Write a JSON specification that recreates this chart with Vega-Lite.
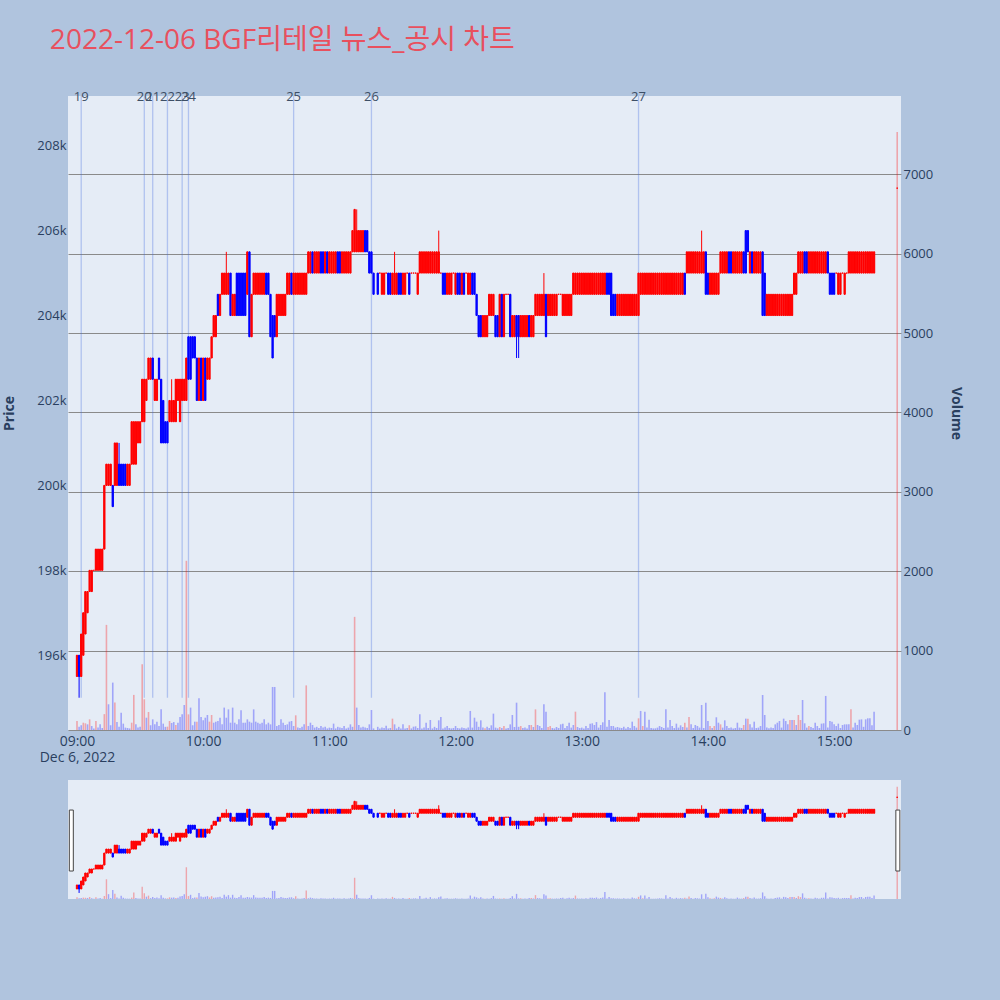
{
  "$schema": "https://vega.github.io/schema/vega-lite/v6.json",
  "background": "#B0C4DE",
  "padding": {"left": 2, "top": 27, "right": 38, "bottom": 101},
  "title": {
    "text": "2022-12-06 BGF리테일 뉴스_공시 차트",
    "anchor": "start",
    "font": "Open Sans, Noto Sans CJK KR",
    "fontSize": 28,
    "fontWeight": "normal",
    "color": "#E8505E",
    "dx": 47,
    "offset": 36
  },
  "config": {
    "view": {"fill": "#E5ECF6", "stroke": null},
    "font": "Open Sans",
    "axis": {"labelFont": "Open Sans", "titleFont": "Open Sans"}
  },
  "data": {
    "values": [
      {"m":0,"o":195500,"h":196000,"l":195500,"c":196000,"v":113,"r":1},
      {"m":1,"o":196000,"h":196000,"l":195000,"c":195500,"v":42},
      {"m":2,"o":195500,"h":196500,"l":195500,"c":196500,"v":60},
      {"m":3,"o":196000,"h":197000,"l":196000,"c":197000,"v":92,"r":1},
      {"m":4,"o":196500,"h":197500,"l":196500,"c":197500,"v":84,"r":1},
      {"m":5,"o":197000,"h":197500,"l":197000,"c":197500,"v":71},
      {"m":6,"o":197500,"h":198000,"l":197500,"c":198000,"v":134,"r":1},
      {"m":7,"o":197500,"h":198000,"l":197500,"c":198000,"v":50},
      {"m":8,"o":198000,"h":198000,"l":198000,"c":198000,"v":20},
      {"m":9,"o":198000,"h":198500,"l":198000,"c":198500,"v":113,"r":1},
      {"m":10,"o":198000,"h":198500,"l":198000,"c":198500,"v":30},
      {"m":11,"o":198000,"h":198500,"l":198000,"c":198500,"v":71},
      {"m":12,"o":198000,"h":198500,"l":198000,"c":198500,"v":25},
      {"m":13,"o":198500,"h":200000,"l":198500,"c":200000,"v":200,"r":1},
      {"m":14,"o":200000,"h":200500,"l":200000,"c":200500,"v":1324,"r":1},
      {"m":15,"o":200000,"h":200500,"l":200000,"c":200500,"v":324},
      {"m":16,"o":200000,"h":200500,"l":200000,"c":200500,"v":60},
      {"m":17,"o":200000,"h":200000,"l":199500,"c":199500,"v":597},
      {"m":18,"o":200000,"h":201000,"l":200000,"c":201000,"v":345,"r":1},
      {"m":19,"o":200000,"h":201000,"l":200000,"c":201000,"v":100},
      {"m":20,"o":200500,"h":201000,"l":200000,"c":200000,"v":40},
      {"m":21,"o":200500,"h":200500,"l":200000,"c":200000,"v":218},
      {"m":22,"o":200500,"h":200500,"l":200000,"c":200000,"v":80},
      {"m":23,"o":200500,"h":200500,"l":200000,"c":200000,"v":30},
      {"m":24,"o":200000,"h":200500,"l":200000,"c":200500,"v":25},
      {"m":25,"o":200000,"h":200500,"l":200000,"c":200500,"v":20},
      {"m":26,"o":200500,"h":201500,"l":200500,"c":201500,"v":92,"r":1},
      {"m":27,"o":200500,"h":201500,"l":200500,"c":201500,"v":442,"r":1},
      {"m":28,"o":200500,"h":201500,"l":200500,"c":201500,"v":71},
      {"m":29,"o":201000,"h":201500,"l":201000,"c":201500,"v":30},
      {"m":30,"o":201000,"h":201500,"l":201000,"c":201500,"v":40},
      {"m":31,"o":201500,"h":202500,"l":201500,"c":202500,"v":828,"r":1},
      {"m":32,"o":201500,"h":202500,"l":201500,"c":202500,"v":387,"r":1},
      {"m":33,"o":202000,"h":202500,"l":202000,"c":202500,"v":155},
      {"m":34,"o":202500,"h":203000,"l":202500,"c":203000,"v":227,"r":1},
      {"m":35,"o":202500,"h":203000,"l":202500,"c":203000,"v":60},
      {"m":36,"o":203000,"h":203000,"l":202500,"c":202500,"v":134},
      {"m":37,"o":202000,"h":202500,"l":202000,"c":202500,"v":71},
      {"m":38,"o":202000,"h":202500,"l":202000,"c":202500,"v":105},
      {"m":39,"o":203000,"h":203000,"l":202500,"c":202500,"v":50},
      {"m":40,"o":202500,"h":202500,"l":201000,"c":201000,"v":260},
      {"m":41,"o":202000,"h":202000,"l":201000,"c":201000,"v":80},
      {"m":42,"o":201500,"h":201500,"l":201000,"c":201000,"v":40},
      {"m":43,"o":201500,"h":201500,"l":201000,"c":201000,"v":42,"r":1},
      {"m":44,"o":201500,"h":202000,"l":201500,"c":202000,"v":113,"r":1},
      {"m":45,"o":201500,"h":202500,"l":201500,"c":202000,"v":88},
      {"m":46,"o":201500,"h":202000,"l":201500,"c":202000,"v":100},
      {"m":47,"o":201500,"h":202500,"l":201500,"c":202500,"v":63,"r":1},
      {"m":48,"o":202000,"h":202500,"l":202000,"c":202500,"v":92},
      {"m":49,"o":201500,"h":202500,"l":201500,"c":202500,"v":164},
      {"m":50,"o":202000,"h":202500,"l":202000,"c":202500,"v":197},
      {"m":51,"o":202000,"h":202500,"l":202000,"c":202500,"v":315},
      {"m":52,"o":202000,"h":203000,"l":202000,"c":203000,"v":2131,"r":1},
      {"m":53,"o":203500,"h":203500,"l":202500,"c":202500,"v":197,"r":1},
      {"m":54,"o":203500,"h":203500,"l":202500,"c":202500,"v":282},
      {"m":55,"o":203500,"h":203500,"l":203000,"c":203000,"v":60},
      {"m":56,"o":203500,"h":203500,"l":203000,"c":203000,"v":105},
      {"m":57,"o":203000,"h":203000,"l":202000,"c":202000,"v":105,"r":1},
      {"m":58,"o":202000,"h":203000,"l":202000,"c":203000,"v":400},
      {"m":59,"o":203000,"h":203000,"l":202000,"c":202000,"v":164},
      {"m":60,"o":202000,"h":203000,"l":202000,"c":203000,"v":122},
      {"m":61,"o":203000,"h":203000,"l":202000,"c":202000,"v":155},
      {"m":62,"o":202500,"h":203000,"l":202500,"c":203000,"v":189},
      {"m":63,"o":202500,"h":203000,"l":202500,"c":203000,"v":105,"r":1},
      {"m":64,"o":203000,"h":203500,"l":203000,"c":203500,"v":189,"r":1},
      {"m":65,"o":203500,"h":204000,"l":203500,"c":204000,"v":92},
      {"m":66,"o":203500,"h":204000,"l":203500,"c":204000,"v":105},
      {"m":67,"o":204500,"h":204500,"l":204000,"c":204000,"v":113},
      {"m":68,"o":204000,"h":204500,"l":204000,"c":204500,"v":155},
      {"m":69,"o":204500,"h":205000,"l":204500,"c":205000,"v":71},
      {"m":70,"o":204500,"h":205000,"l":204500,"c":205000,"v":282},
      {"m":71,"o":204500,"h":205500,"l":204500,"c":205000,"v":155},
      {"m":72,"o":204500,"h":205000,"l":204500,"c":205000,"v":260},
      {"m":73,"o":205000,"h":205000,"l":204000,"c":204000,"v":92},
      {"m":74,"o":204000,"h":204500,"l":204000,"c":204500,"v":282},
      {"m":75,"o":204000,"h":204500,"l":204000,"c":204500,"v":92},
      {"m":76,"o":205000,"h":205000,"l":204000,"c":204000,"v":71},
      {"m":77,"o":205000,"h":205000,"l":204000,"c":204000,"v":134},
      {"m":78,"o":205000,"h":205000,"l":204000,"c":204000,"v":250},
      {"m":79,"o":205000,"h":205000,"l":204000,"c":204000,"v":92},
      {"m":80,"o":205000,"h":205000,"l":204000,"c":204000,"v":92},
      {"m":81,"o":204500,"h":205500,"l":204500,"c":205500,"v":134},
      {"m":82,"o":205500,"h":205500,"l":203500,"c":203500,"v":105},
      {"m":83,"o":203500,"h":204500,"l":203500,"c":204500,"v":92},
      {"m":84,"o":204500,"h":205000,"l":204500,"c":205000,"v":260},
      {"m":85,"o":204500,"h":205000,"l":204500,"c":205000,"v":105},
      {"m":86,"o":204500,"h":205000,"l":204500,"c":205000,"v":92},
      {"m":87,"o":204500,"h":205000,"l":204500,"c":205000,"v":80},
      {"m":88,"o":204500,"h":205000,"l":204500,"c":205000,"v":92},
      {"m":89,"o":204500,"h":205000,"l":204500,"c":205000,"v":134},
      {"m":90,"o":205000,"h":205000,"l":204500,"c":204500,"v":71},
      {"m":91,"o":205000,"h":205000,"l":204500,"c":204500,"v":92},
      {"m":92,"o":204500,"h":204500,"l":203500,"c":203500,"v":71},
      {"m":93,"o":204000,"h":204000,"l":203000,"c":203000,"v":542},
      {"m":94,"o":204000,"h":204000,"l":203500,"c":203500,"v":542},
      {"m":95,"o":203500,"h":204500,"l":203500,"c":204500,"v":50},
      {"m":96,"o":204000,"h":204500,"l":204000,"c":204500,"v":63},
      {"m":97,"o":204000,"h":204500,"l":204000,"c":204500,"v":134},
      {"m":98,"o":204000,"h":204500,"l":204000,"c":204500,"v":92},
      {"m":99,"o":204000,"h":204500,"l":204000,"c":204500,"v":63},
      {"m":100,"o":204500,"h":205000,"l":204500,"c":205000,"v":71},
      {"m":101,"o":204500,"h":205000,"l":204500,"c":205000,"v":105},
      {"m":102,"o":205000,"h":205000,"l":204500,"c":204500,"v":113},
      {"m":103,"o":204500,"h":205000,"l":204500,"c":205000,"v":50},
      {"m":104,"o":204500,"h":205000,"l":204500,"c":205000,"v":185,"r":1},
      {"m":105,"o":204500,"h":205000,"l":204500,"c":205000,"v":30},
      {"m":106,"o":204500,"h":205000,"l":204500,"c":205000,"v":25},
      {"m":107,"o":204500,"h":205000,"l":204500,"c":205000,"v":40},
      {"m":108,"o":204500,"h":205000,"l":204500,"c":205000,"v":71},
      {"m":109,"o":204500,"h":205000,"l":204500,"c":205000,"v":562,"r":1},
      {"m":110,"o":205000,"h":205500,"l":205000,"c":205500,"v":50},
      {"m":111,"o":205000,"h":205500,"l":205000,"c":205500,"v":92},
      {"m":112,"o":205500,"h":205500,"l":205000,"c":205000,"v":63},
      {"m":113,"o":205000,"h":205500,"l":205000,"c":205500,"v":30},
      {"m":114,"o":205000,"h":205500,"l":205000,"c":205500,"v":40},
      {"m":115,"o":205000,"h":205500,"l":205000,"c":205500,"v":25},
      {"m":116,"o":205500,"h":205500,"l":205000,"c":205000,"v":50},
      {"m":117,"o":205500,"h":205500,"l":205000,"c":205000,"v":30},
      {"m":118,"o":205000,"h":205500,"l":205000,"c":205500,"v":40},
      {"m":119,"o":205500,"h":205500,"l":205000,"c":205000,"v":20},
      {"m":120,"o":205000,"h":205500,"l":205000,"c":205500,"v":30},
      {"m":121,"o":205000,"h":205500,"l":205000,"c":205500,"v":25},
      {"m":122,"o":205000,"h":205500,"l":205000,"c":205500,"v":80},
      {"m":123,"o":205000,"h":205500,"l":205000,"c":205500,"v":20},
      {"m":124,"o":205500,"h":205500,"l":205000,"c":205000,"v":40},
      {"m":125,"o":205500,"h":205500,"l":205000,"c":205000,"v":30},
      {"m":126,"o":205000,"h":205500,"l":205000,"c":205500,"v":25},
      {"m":127,"o":205000,"h":205500,"l":205000,"c":205500,"v":50},
      {"m":128,"o":205000,"h":205500,"l":205000,"c":205500,"v":20},
      {"m":129,"o":205000,"h":205500,"l":205000,"c":205500,"v":30},
      {"m":130,"o":205000,"h":205500,"l":205000,"c":205500,"v":71},
      {"m":131,"o":205500,"h":206000,"l":205500,"c":206000,"v":40},
      {"m":132,"o":205500,"h":206500,"l":205500,"c":206500,"v":1425,"r":1},
      {"m":133,"o":205500,"h":206500,"l":205500,"c":206000,"v":282},
      {"m":134,"o":205500,"h":206000,"l":205500,"c":206000,"v":63},
      {"m":135,"o":205500,"h":206000,"l":205500,"c":206000,"v":30},
      {"m":136,"o":205500,"h":206000,"l":205500,"c":206000,"v":40},
      {"m":137,"o":206000,"h":206000,"l":205500,"c":205500,"v":30},
      {"m":138,"o":206000,"h":206000,"l":205500,"c":205500,"v":25},
      {"m":139,"o":205500,"h":205500,"l":205000,"c":205000,"v":71},
      {"m":140,"o":205500,"h":205500,"l":205000,"c":205000,"v":252},
      {"m":141,"o":205000,"h":205000,"l":204500,"c":204500,"v":20},
      {"m":143,"o":205000,"h":205000,"l":204500,"c":204500,"v":40},
      {"m":144,"o":205000,"h":205000,"l":205000,"c":205000,"v":20},
      {"m":145,"o":204500,"h":205000,"l":204500,"c":205000,"v":30},
      {"m":146,"o":204500,"h":205000,"l":204500,"c":205000,"v":25},
      {"m":147,"o":205000,"h":205000,"l":205000,"c":205000,"v":55},
      {"m":148,"o":205000,"h":205000,"l":204500,"c":204500,"v":20},
      {"m":149,"o":205000,"h":205000,"l":204500,"c":204500,"v":25},
      {"m":150,"o":204500,"h":205000,"l":204500,"c":205000,"v":143,"r":1},
      {"m":151,"o":204500,"h":205500,"l":204500,"c":205000,"v":71},
      {"m":152,"o":204500,"h":205000,"l":204500,"c":205000,"v":20},
      {"m":153,"o":205000,"h":205000,"l":204500,"c":204500,"v":40},
      {"m":154,"o":205000,"h":205000,"l":204500,"c":204500,"v":20},
      {"m":155,"o":204500,"h":205000,"l":204500,"c":205000,"v":71},
      {"m":156,"o":204500,"h":205000,"l":204500,"c":205000,"v":20},
      {"m":157,"o":205000,"h":205000,"l":205000,"c":205000,"v":25},
      {"m":158,"o":205000,"h":205000,"l":204500,"c":204500,"v":60,"r":1},
      {"m":159,"o":205000,"h":205000,"l":205000,"c":205000,"v":20},
      {"m":160,"o":205000,"h":205000,"l":205000,"c":205000,"v":42},
      {"m":161,"o":205000,"h":205000,"l":205000,"c":205000,"v":46},
      {"m":162,"o":204500,"h":205000,"l":204500,"c":205000,"v":25},
      {"m":163,"o":205000,"h":205500,"l":205000,"c":205500,"v":197},
      {"m":164,"o":205000,"h":205500,"l":205000,"c":205500,"v":20},
      {"m":165,"o":205000,"h":205500,"l":205000,"c":205500,"v":30},
      {"m":166,"o":205000,"h":205500,"l":205000,"c":205500,"v":92},
      {"m":167,"o":205000,"h":205500,"l":205000,"c":205500,"v":25},
      {"m":168,"o":205000,"h":205500,"l":205000,"c":205500,"v":126},
      {"m":169,"o":205000,"h":205500,"l":205000,"c":205500,"v":20},
      {"m":170,"o":205000,"h":205500,"l":205000,"c":205500,"v":40},
      {"m":171,"o":205000,"h":205500,"l":205000,"c":205500,"v":25},
      {"m":172,"o":205000,"h":206000,"l":205000,"c":205500,"v":122},
      {"m":173,"o":205000,"h":205000,"l":205000,"c":205000,"v":164},
      {"m":174,"o":205000,"h":205000,"l":204500,"c":204500,"v":20},
      {"m":175,"o":205000,"h":205000,"l":204500,"c":204500,"v":30},
      {"m":176,"o":204500,"h":205000,"l":204500,"c":205000,"v":50},
      {"m":177,"o":204500,"h":205000,"l":204500,"c":205000,"v":25},
      {"m":178,"o":204500,"h":205000,"l":204500,"c":205000,"v":20},
      {"m":179,"o":205000,"h":205000,"l":205000,"c":205000,"v":25},
      {"m":180,"o":204500,"h":205000,"l":204500,"c":205000,"v":50},
      {"m":181,"o":205000,"h":205000,"l":204500,"c":204500,"v":25},
      {"m":182,"o":205000,"h":205000,"l":204500,"c":204500,"v":20},
      {"m":183,"o":204500,"h":205000,"l":204500,"c":205000,"v":30},
      {"m":184,"o":205000,"h":205000,"l":204500,"c":204500,"v":25},
      {"m":185,"o":205000,"h":205000,"l":205000,"c":205000,"v":20},
      {"m":186,"o":204500,"h":205000,"l":204500,"c":205000,"v":30},
      {"m":187,"o":204500,"h":205000,"l":204500,"c":205000,"v":240},
      {"m":188,"o":205000,"h":205000,"l":204500,"c":204500,"v":30},
      {"m":189,"o":205000,"h":205000,"l":204500,"c":204500,"v":155},
      {"m":190,"o":204500,"h":204500,"l":204000,"c":204000,"v":105},
      {"m":191,"o":204000,"h":204000,"l":203500,"c":203500,"v":40},
      {"m":192,"o":204000,"h":204000,"l":203500,"c":203500,"v":122},
      {"m":193,"o":203500,"h":204000,"l":203500,"c":204000,"v":30},
      {"m":194,"o":203500,"h":204000,"l":203500,"c":204000,"v":21,"r":1},
      {"m":195,"o":203500,"h":204000,"l":203500,"c":204000,"v":40},
      {"m":196,"o":204000,"h":204500,"l":204000,"c":204500,"v":25},
      {"m":197,"o":204000,"h":204500,"l":204000,"c":204500,"v":59},
      {"m":198,"o":204000,"h":204500,"l":204000,"c":204500,"v":206},
      {"m":199,"o":204000,"h":204000,"l":203500,"c":203500,"v":30},
      {"m":200,"o":204000,"h":204000,"l":203500,"c":203500,"v":21},
      {"m":201,"o":203500,"h":204500,"l":203500,"c":204500,"v":38,"r":1},
      {"m":202,"o":204500,"h":204500,"l":203500,"c":203500,"v":25},
      {"m":203,"o":203500,"h":204500,"l":203500,"c":204500,"v":50,"r":1},
      {"m":204,"o":204500,"h":204500,"l":204500,"c":204500,"v":20},
      {"m":205,"o":204500,"h":204500,"l":204500,"c":204500,"v":25},
      {"m":206,"o":204500,"h":204500,"l":203500,"c":203500,"v":71},
      {"m":207,"o":203500,"h":204000,"l":203500,"c":204000,"v":189},
      {"m":208,"o":203500,"h":204000,"l":203500,"c":204000,"v":38},
      {"m":209,"o":204000,"h":204000,"l":203000,"c":203500,"v":344},
      {"m":210,"o":204000,"h":204000,"l":203000,"c":203500,"v":40},
      {"m":211,"o":203500,"h":204000,"l":203500,"c":204000,"v":50,"r":1},
      {"m":212,"o":203500,"h":204000,"l":203500,"c":204000,"v":25},
      {"m":213,"o":203500,"h":204000,"l":203500,"c":204000,"v":30},
      {"m":214,"o":203500,"h":204000,"l":203500,"c":204000,"v":20},
      {"m":215,"o":204000,"h":204000,"l":203500,"c":203500,"v":63},
      {"m":216,"o":203500,"h":204000,"l":203500,"c":204000,"v":63,"r":1},
      {"m":217,"o":203500,"h":204000,"l":203500,"c":204000,"v":38},
      {"m":218,"o":204000,"h":204500,"l":204000,"c":204500,"v":260,"r":1},
      {"m":219,"o":204000,"h":204500,"l":204000,"c":204500,"v":63},
      {"m":220,"o":204000,"h":204500,"l":204000,"c":204500,"v":50},
      {"m":221,"o":204000,"h":204500,"l":204000,"c":204500,"v":25},
      {"m":222,"o":204000,"h":205000,"l":204000,"c":204500,"v":324},
      {"m":223,"o":204500,"h":204500,"l":203500,"c":203500,"v":231},
      {"m":224,"o":204000,"h":204500,"l":204000,"c":204500,"v":38,"r":1},
      {"m":225,"o":204000,"h":204500,"l":204000,"c":204500,"v":50,"r":1},
      {"m":226,"o":204000,"h":204500,"l":204000,"c":204500,"v":25},
      {"m":227,"o":204000,"h":204500,"l":204000,"c":204500,"v":20},
      {"m":228,"o":204000,"h":204500,"l":204000,"c":204500,"v":38},
      {"m":229,"o":204500,"h":204500,"l":204500,"c":204500,"v":25},
      {"m":230,"o":204500,"h":204500,"l":204500,"c":204500,"v":71},
      {"m":231,"o":204000,"h":204500,"l":204000,"c":204500,"v":80},
      {"m":232,"o":204000,"h":204500,"l":204000,"c":204500,"v":25},
      {"m":233,"o":204000,"h":204500,"l":204000,"c":204500,"v":50},
      {"m":234,"o":204000,"h":204500,"l":204000,"c":204500,"v":92},
      {"m":235,"o":204000,"h":204500,"l":204000,"c":204500,"v":30},
      {"m":236,"o":204500,"h":205000,"l":204500,"c":205000,"v":63},
      {"m":237,"o":204500,"h":205000,"l":204500,"c":205000,"v":231,"r":1},
      {"m":238,"o":204500,"h":205000,"l":204500,"c":205000,"v":38},
      {"m":239,"o":204500,"h":205000,"l":204500,"c":205000,"v":25},
      {"m":240,"o":204500,"h":205000,"l":204500,"c":205000,"v":30},
      {"m":241,"o":204500,"h":205000,"l":204500,"c":205000,"v":20},
      {"m":242,"o":204500,"h":205000,"l":204500,"c":205000,"v":50},
      {"m":243,"o":204500,"h":205000,"l":204500,"c":205000,"v":25},
      {"m":244,"o":204500,"h":205000,"l":204500,"c":205000,"v":80},
      {"m":245,"o":204500,"h":205000,"l":204500,"c":205000,"v":84},
      {"m":246,"o":204500,"h":205000,"l":204500,"c":205000,"v":63},
      {"m":247,"o":204500,"h":205000,"l":204500,"c":205000,"v":100},
      {"m":248,"o":204500,"h":205000,"l":204500,"c":205000,"v":30},
      {"m":249,"o":204500,"h":205000,"l":204500,"c":205000,"v":63},
      {"m":250,"o":204500,"h":205000,"l":204500,"c":205000,"v":97},
      {"m":251,"o":204500,"h":205000,"l":204500,"c":205000,"v":475},
      {"m":252,"o":205000,"h":205000,"l":204500,"c":204500,"v":40},
      {"m":253,"o":205000,"h":205000,"l":204500,"c":204500,"v":126},
      {"m":254,"o":205000,"h":205000,"l":204000,"c":204000,"v":50},
      {"m":255,"o":204500,"h":204500,"l":204000,"c":204000,"v":50},
      {"m":256,"o":204500,"h":204500,"l":204000,"c":204000,"v":30},
      {"m":257,"o":204000,"h":204500,"l":204000,"c":204500,"v":38},
      {"m":258,"o":204000,"h":204500,"l":204000,"c":204500,"v":29},
      {"m":259,"o":204000,"h":204500,"l":204000,"c":204500,"v":25},
      {"m":260,"o":204000,"h":204500,"l":204000,"c":204500,"v":42},
      {"m":261,"o":204000,"h":204500,"l":204000,"c":204500,"v":20},
      {"m":262,"o":204000,"h":204500,"l":204000,"c":204500,"v":38},
      {"m":263,"o":204000,"h":204500,"l":204000,"c":204500,"v":25},
      {"m":264,"o":204000,"h":204500,"l":204000,"c":204500,"v":105},
      {"m":265,"o":204000,"h":204500,"l":204000,"c":204500,"v":50},
      {"m":266,"o":204000,"h":204500,"l":204000,"c":204500,"v":30},
      {"m":267,"o":204000,"h":205000,"l":204000,"c":205000,"v":147,"r":1},
      {"m":268,"o":204500,"h":205000,"l":204500,"c":205000,"v":240},
      {"m":269,"o":204500,"h":205000,"l":204500,"c":205000,"v":50,"r":1},
      {"m":270,"o":204500,"h":205000,"l":204500,"c":205000,"v":231},
      {"m":271,"o":204500,"h":205000,"l":204500,"c":205000,"v":30},
      {"m":272,"o":204500,"h":205000,"l":204500,"c":205000,"v":130},
      {"m":273,"o":204500,"h":205000,"l":204500,"c":205000,"v":25},
      {"m":274,"o":204500,"h":205000,"l":204500,"c":205000,"v":20},
      {"m":275,"o":204500,"h":205000,"l":204500,"c":205000,"v":21},
      {"m":276,"o":204500,"h":205000,"l":204500,"c":205000,"v":30},
      {"m":277,"o":204500,"h":205000,"l":204500,"c":205000,"v":50},
      {"m":278,"o":204500,"h":205000,"l":204500,"c":205000,"v":38},
      {"m":279,"o":204500,"h":205000,"l":204500,"c":205000,"v":25},
      {"m":280,"o":204500,"h":205000,"l":204500,"c":205000,"v":260},
      {"m":281,"o":204500,"h":205000,"l":204500,"c":205000,"v":30},
      {"m":282,"o":204500,"h":205000,"l":204500,"c":205000,"v":126},
      {"m":283,"o":204500,"h":205000,"l":204500,"c":205000,"v":50},
      {"m":284,"o":204500,"h":205000,"l":204500,"c":205000,"v":25},
      {"m":285,"o":204500,"h":205000,"l":204500,"c":205000,"v":80},
      {"m":286,"o":204500,"h":205000,"l":204500,"c":205000,"v":30},
      {"m":287,"o":204500,"h":205000,"l":204500,"c":205000,"v":59},
      {"m":288,"o":204500,"h":205000,"l":204500,"c":205000,"v":38},
      {"m":289,"o":205000,"h":205000,"l":204500,"c":204500,"v":92,"r":1},
      {"m":290,"o":205000,"h":205500,"l":205000,"c":205500,"v":30},
      {"m":291,"o":205000,"h":205500,"l":205000,"c":205500,"v":164,"r":1},
      {"m":292,"o":205000,"h":205500,"l":205000,"c":205500,"v":71},
      {"m":293,"o":205000,"h":205500,"l":205000,"c":205500,"v":25},
      {"m":294,"o":205000,"h":205500,"l":205000,"c":205500,"v":63},
      {"m":295,"o":205000,"h":205500,"l":205000,"c":205500,"v":50},
      {"m":296,"o":205000,"h":205500,"l":205000,"c":205500,"v":30},
      {"m":297,"o":205000,"h":206000,"l":205000,"c":205500,"v":315},
      {"m":298,"o":205000,"h":205500,"l":205000,"c":205500,"v":25},
      {"m":299,"o":205500,"h":205500,"l":204500,"c":204500,"v":344},
      {"m":300,"o":205000,"h":205000,"l":204500,"c":204500,"v":113},
      {"m":301,"o":204500,"h":205000,"l":204500,"c":205000,"v":50,"r":1},
      {"m":302,"o":204500,"h":205000,"l":204500,"c":205000,"v":25},
      {"m":303,"o":204500,"h":205000,"l":204500,"c":205000,"v":50,"r":1},
      {"m":304,"o":204500,"h":205000,"l":204500,"c":205000,"v":160},
      {"m":305,"o":204500,"h":205000,"l":204500,"c":205000,"v":92},
      {"m":306,"o":205000,"h":205500,"l":205000,"c":205500,"v":71,"r":1},
      {"m":307,"o":205000,"h":205500,"l":205000,"c":205500,"v":30},
      {"m":308,"o":205000,"h":205500,"l":205000,"c":205500,"v":122},
      {"m":309,"o":205000,"h":205500,"l":205000,"c":205500,"v":50},
      {"m":310,"o":205500,"h":205500,"l":205000,"c":205000,"v":25},
      {"m":311,"o":205500,"h":205500,"l":205000,"c":205000,"v":30},
      {"m":312,"o":205000,"h":205500,"l":205000,"c":205500,"v":20},
      {"m":313,"o":205000,"h":205500,"l":205000,"c":205500,"v":25},
      {"m":314,"o":205000,"h":205500,"l":205000,"c":205500,"v":92},
      {"m":315,"o":205000,"h":205500,"l":205000,"c":205500,"v":30},
      {"m":316,"o":205000,"h":205500,"l":205000,"c":205500,"v":25},
      {"m":317,"o":205500,"h":205500,"l":205000,"c":205000,"v":63,"r":1},
      {"m":318,"o":206000,"h":206000,"l":205000,"c":205000,"v":143},
      {"m":319,"o":206000,"h":206000,"l":205500,"c":205500,"v":143,"r":1},
      {"m":320,"o":205000,"h":205500,"l":205000,"c":205500,"v":71},
      {"m":321,"o":205500,"h":205500,"l":205000,"c":205000,"v":30},
      {"m":322,"o":205000,"h":205500,"l":205000,"c":205500,"v":105},
      {"m":323,"o":205000,"h":205500,"l":205000,"c":205500,"v":25},
      {"m":324,"o":205000,"h":205500,"l":205000,"c":205500,"v":30},
      {"m":325,"o":205000,"h":205500,"l":205000,"c":205500,"v":50},
      {"m":326,"o":205500,"h":205500,"l":204000,"c":204000,"v":441},
      {"m":327,"o":205000,"h":205000,"l":204000,"c":204000,"v":189},
      {"m":328,"o":204000,"h":204500,"l":204000,"c":204500,"v":30},
      {"m":329,"o":204000,"h":204500,"l":204000,"c":204500,"v":21},
      {"m":330,"o":204000,"h":204500,"l":204000,"c":204500,"v":30},
      {"m":331,"o":204000,"h":204500,"l":204000,"c":204500,"v":25},
      {"m":332,"o":204000,"h":204500,"l":204000,"c":204500,"v":71},
      {"m":333,"o":204000,"h":204500,"l":204000,"c":204500,"v":92},
      {"m":334,"o":204000,"h":204500,"l":204000,"c":204500,"v":113},
      {"m":335,"o":204000,"h":204500,"l":204000,"c":204500,"v":30},
      {"m":336,"o":204000,"h":204500,"l":204000,"c":204500,"v":143},
      {"m":337,"o":204000,"h":204500,"l":204000,"c":204500,"v":113},
      {"m":338,"o":204000,"h":204500,"l":204000,"c":204500,"v":71},
      {"m":339,"o":204000,"h":204500,"l":204000,"c":204500,"v":126,"r":1},
      {"m":340,"o":204000,"h":204500,"l":204000,"c":204500,"v":126},
      {"m":341,"o":204500,"h":205000,"l":204500,"c":205000,"v":126,"r":1},
      {"m":342,"o":204500,"h":205000,"l":204500,"c":205000,"v":63},
      {"m":343,"o":205000,"h":205500,"l":205000,"c":205500,"v":189,"r":1},
      {"m":344,"o":205000,"h":205500,"l":205000,"c":205500,"v":126,"r":1},
      {"m":345,"o":205000,"h":205500,"l":205000,"c":205500,"v":378},
      {"m":346,"o":205500,"h":205500,"l":205000,"c":205000,"v":84},
      {"m":347,"o":205500,"h":205500,"l":205000,"c":205000,"v":30},
      {"m":348,"o":205000,"h":205500,"l":205000,"c":205500,"v":50,"r":1},
      {"m":349,"o":205000,"h":205500,"l":205000,"c":205500,"v":38},
      {"m":350,"o":205000,"h":205500,"l":205000,"c":205500,"v":25},
      {"m":351,"o":205000,"h":205500,"l":205000,"c":205500,"v":92},
      {"m":352,"o":205000,"h":205500,"l":205000,"c":205500,"v":50},
      {"m":353,"o":205000,"h":205500,"l":205000,"c":205500,"v":25},
      {"m":354,"o":205000,"h":205500,"l":205000,"c":205500,"v":80},
      {"m":355,"o":205000,"h":205500,"l":205000,"c":205500,"v":84},
      {"m":356,"o":205000,"h":205500,"l":205000,"c":205500,"v":429},
      {"m":357,"o":205500,"h":205500,"l":205000,"c":205000,"v":30},
      {"m":358,"o":205000,"h":205000,"l":204500,"c":204500,"v":113},
      {"m":359,"o":205000,"h":205000,"l":204500,"c":204500,"v":105},
      {"m":360,"o":205000,"h":205000,"l":204500,"c":204500,"v":71},
      {"m":361,"o":205000,"h":205000,"l":205000,"c":205000,"v":50},
      {"m":362,"o":204500,"h":205000,"l":204500,"c":205000,"v":80},
      {"m":363,"o":204500,"h":205000,"l":204500,"c":205000,"v":25},
      {"m":364,"o":205000,"h":205000,"l":205000,"c":205000,"v":63},
      {"m":365,"o":204500,"h":205000,"l":204500,"c":205000,"v":71},
      {"m":366,"o":205000,"h":205000,"l":205000,"c":205000,"v":71},
      {"m":367,"o":205000,"h":205500,"l":205000,"c":205500,"v":71},
      {"m":368,"o":205000,"h":205500,"l":205000,"c":205500,"v":260,"r":1},
      {"m":369,"o":205000,"h":205500,"l":205000,"c":205500,"v":30},
      {"m":370,"o":205000,"h":205500,"l":205000,"c":205500,"v":92},
      {"m":371,"o":205000,"h":205500,"l":205000,"c":205500,"v":63},
      {"m":372,"o":205000,"h":205500,"l":205000,"c":205500,"v":130},
      {"m":373,"o":205000,"h":205500,"l":205000,"c":205500,"v":134},
      {"m":374,"o":205000,"h":205500,"l":205000,"c":205500,"v":40},
      {"m":375,"o":205000,"h":205500,"l":205000,"c":205500,"v":134},
      {"m":376,"o":205000,"h":205500,"l":205000,"c":205500,"v":147},
      {"m":377,"o":205000,"h":205500,"l":205000,"c":205500,"v":147},
      {"m":378,"o":205000,"h":205500,"l":205000,"c":205500,"v":60},
      {"m":379,"o":205000,"h":205500,"l":205000,"c":205500,"v":231},
      {"m":390,"o":207000,"h":207000,"l":207000,"c":207000,"v":7533,"r":1}
    ]
  },
  "spacing": 16,
  "vconcat": [
    {
      "width": 833,
      "height": 634,
      "encoding": {
        "x": {
          "field": "m",
          "type": "quantitative",
          "scale": {"domain": [-4.28, 391.8], "nice": false, "zero": false, "padding": 0},
          "axis": {
            "title": null,
            "values": [0, 60, 120, 180, 240, 300, 360],
            "labelExpr": "datum.value == 0 ? ['09:00', 'Dec 6, 2022'] : (9 + datum.value / 60) + ':00'",
            "labelFontSize": 14,
            "labelColor": "#2a3f5f",
            "labelLineHeight": 16,
            "labelPadding": 4,
            "labelFlush": false,
            "ticks": false,
            "domain": false,
            "grid": false
          }
        }
      },
      "layer": [
        {
          "mark": {"type": "bar", "size": 1.6, "opacity": 0.3},
          "encoding": {
            "y": {
              "field": "v",
              "type": "quantitative",
              "scale": {"domain": [0, 7985], "nice": false},
              "axis": {
                "orient": "right",
                "title": "Volume",
                "titleFontSize": 14,
                "titleFontWeight": "bold",
                "titleColor": "#2a3f5f",
                "titlePadding": 16,
                "values": [0, 1000, 2000, 3000, 4000, 5000, 6000, 7000],
                "format": "d",
                "labelFontSize": 13,
                "labelColor": "#2a3f5f",
                "labelPadding": 2,
                "ticks": false,
                "domain": false,
                "gridColor": "#8a8a8a",
                "gridWidth": 1
              }
            },
            "color": {"condition": {"test": "datum.r == 1", "value": "#ff0000"}, "value": "#0000ff"}
          }
        },
        {
          "layer": [
            {
              "data": {
                "values": [
                  {"m": 2, "n": "19"},
                  {"m": 32, "n": "20"},
                  {"m": 36, "n": "21"},
                  {"m": 43, "n": "22"},
                  {"m": 50, "n": "23"},
                  {"m": 53, "n": "24"},
                  {"m": 103, "n": "25"},
                  {"m": 140, "n": "26"},
                  {"m": 267, "n": "27"}
                ]
              },
              "mark": {"type": "rule", "color": "#4169E1", "opacity": 0.32, "strokeWidth": 1.3},
              "encoding": {
                "y": {"datum": 195000, "type": "quantitative"},
                "y2": {"datum": 209170}
              }
            },
            {
              "mark": {"type": "rule", "strokeWidth": 1},
              "encoding": {
                "y": {
                  "field": "l",
                  "type": "quantitative",
                  "scale": {"domain": [194240, 209170], "nice": false, "zero": false},
                  "axis": {
                    "title": "Price",
                    "titleFontSize": 14,
                    "titleFontWeight": "bold",
                    "titleColor": "#2a3f5f",
                    "titlePadding": 20,
                    "values": [196000, 198000, 200000, 202000, 204000, 206000, 208000],
                    "format": "~s",
                    "labelFontSize": 13,
                    "labelColor": "#2a3f5f",
                    "labelPadding": 2,
                    "ticks": false,
                    "domain": false,
                    "gridColor": "#ffffff",
                    "gridWidth": 1
                  }
                },
                "y2": {"field": "h"},
                "color": {"condition": {"test": "datum.c < datum.o", "value": "#0000ff"}, "value": "#ff0000"}
              }
            },
            {
              "mark": {"type": "bar", "size": 1.3, "strokeWidth": 1},
              "encoding": {
                "y": {"field": "o", "type": "quantitative"},
                "y2": {"field": "c"},
                "fill": {"condition": {"test": "datum.c < datum.o", "value": "#0000ff"}, "value": "#ff0000"},
                "stroke": {"condition": {"test": "datum.c < datum.o", "value": "#0000ff"}, "value": "#ff0000"}
              }
            },
            {
              "data": {
                "values": [
                  {"m": 2, "n": "19"},
                  {"m": 32, "n": "20"},
                  {"m": 36, "n": "21"},
                  {"m": 43, "n": "22"},
                  {"m": 50, "n": "23"},
                  {"m": 53, "n": "24"},
                  {"m": 103, "n": "25"},
                  {"m": 140, "n": "26"},
                  {"m": 267, "n": "27"}
                ]
              },
              "mark": {"type": "text", "fontSize": 13, "color": "#3d4f66", "baseline": "middle", "dy": 1},
              "encoding": {
                "y": {"datum": 209170, "type": "quantitative"},
                "text": {"field": "n"}
              }
            }
          ]
        }
      ],
      "resolve": {"scale": {"y": "independent"}}
    },
    {
      "width": 833,
      "height": 119,
      "encoding": {
        "x": {
          "field": "m",
          "type": "quantitative",
          "scale": {"domain": [-4.28, 391.8], "nice": false, "zero": false, "padding": 0},
          "axis": null
        }
      },
      "layer": [
        {
          "mark": {"type": "bar", "size": 1.4, "opacity": 0.3},
          "encoding": {
            "y": {"field": "v", "type": "quantitative", "scale": {"domain": [0, 7985], "nice": false}, "axis": null},
            "color": {"condition": {"test": "datum.r == 1", "value": "#ff0000"}, "value": "#0000ff"}
          }
        },
        {
          "layer": [
            {
              "mark": {"type": "rule", "strokeWidth": 1},
              "encoding": {
                "y": {"field": "l", "type": "quantitative", "scale": {"domain": [194240, 209170], "nice": false, "zero": false}, "axis": null},
                "y2": {"field": "h"},
                "color": {"condition": {"test": "datum.c < datum.o", "value": "#0000ff"}, "value": "#ff0000"}
              }
            },
            {
              "mark": {"type": "bar", "size": 1.3, "strokeWidth": 1},
              "encoding": {
                "y": {"field": "o", "type": "quantitative"},
                "y2": {"field": "c"},
                "fill": {"condition": {"test": "datum.c < datum.o", "value": "#0000ff"}, "value": "#ff0000"},
                "stroke": {"condition": {"test": "datum.c < datum.o", "value": "#0000ff"}, "value": "#ff0000"}
              }
            },
            {
              "data": {"values": [{"m": -2.7}, {"m": 390.3}]},
              "mark": {"type": "bar", "size": 4, "fill": "#ffffff", "stroke": "#444444", "strokeWidth": 1},
              "encoding": {
                "y": {"datum": 205400, "type": "quantitative"},
                "y2": {"datum": 197750}
              }
            }
          ]
        }
      ],
      "resolve": {"scale": {"y": "independent"}}
    }
  ]
}
